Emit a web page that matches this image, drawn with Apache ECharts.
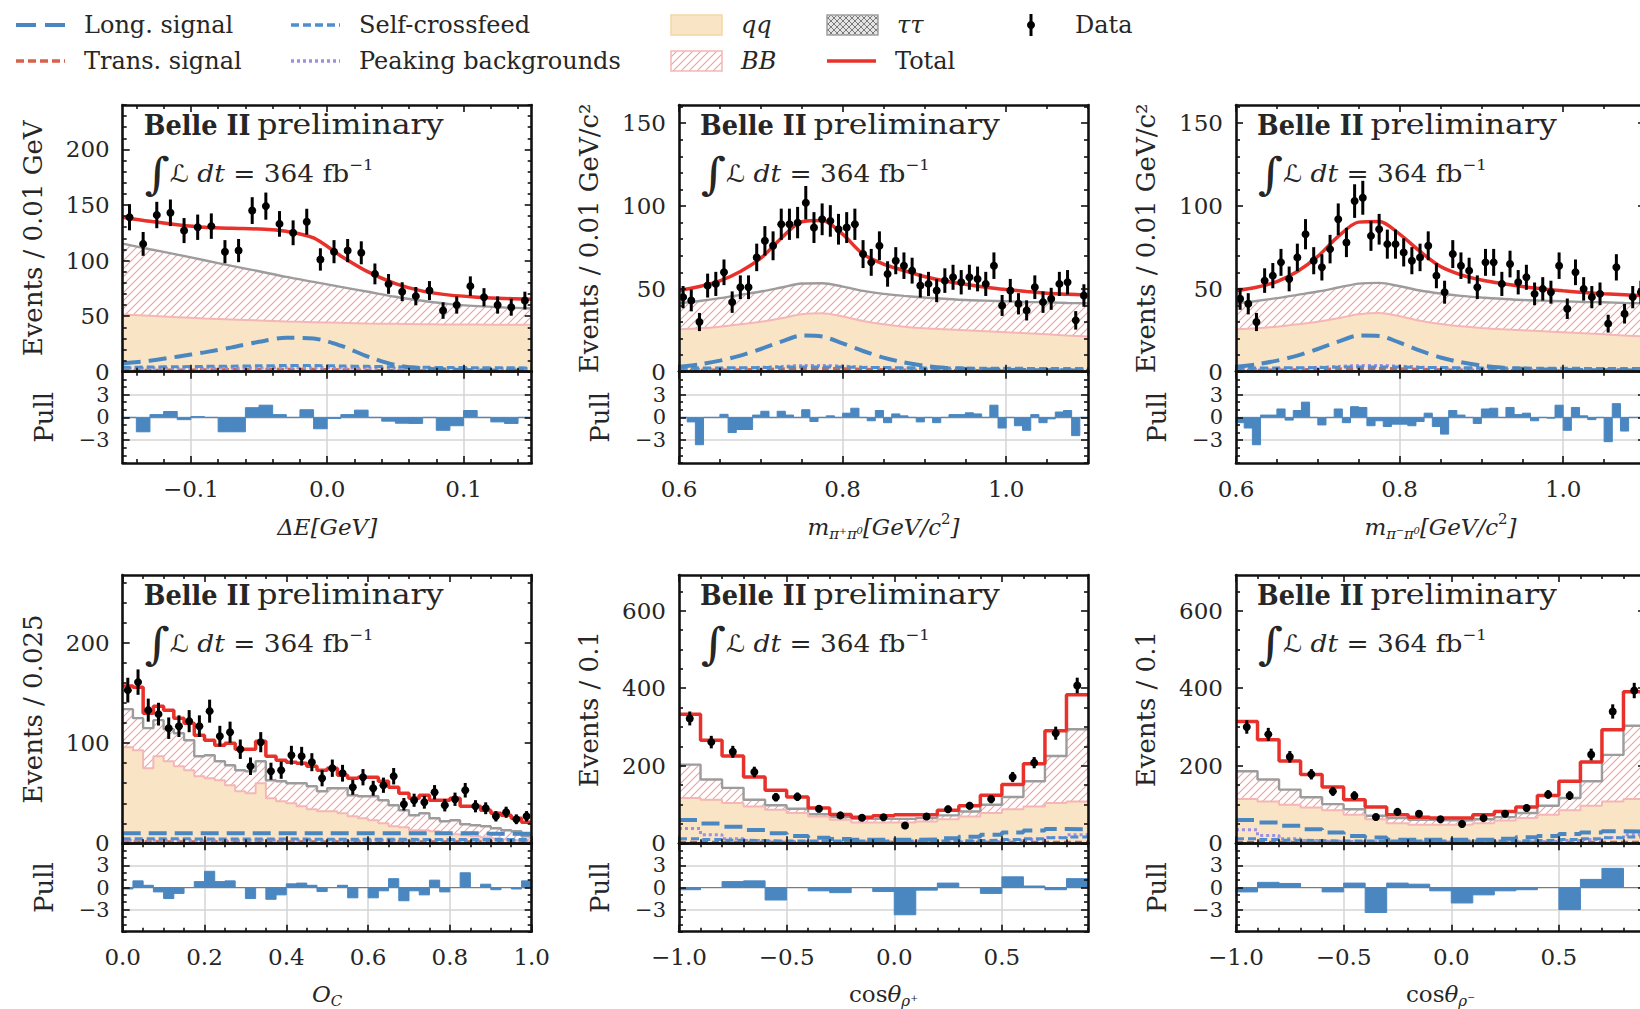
<!DOCTYPE html>
<html>
<head>
<meta charset="utf-8">
<script src="https://cdn.jsdelivr.net/npm/echarts@6.0.0/dist/echarts.min.js"></script>
<style>
html,body{margin:0;padding:0;background:#ffffff;}
#chart{width:1640px;height:1009px;}
</style>
</head>
<body>
<div id="chart"></div>
<script>
// ================= DATA =================
// histogram binning: [low, high, number of bins]
const deBins  = [-0.15, 0.15, 30];
const mBins   = [0.6, 1.1, 50];
const ocBins  = [0.0, 1.0, 40];
const cosBins = [-1.0, 0.9, 19];

// tick labels
const deTicks   = [-0.1, 0.0, 0.1];
const mTicks    = [0.6, 0.8, 1.0];
const ocTicks   = [0.0, 0.2, 0.4, 0.6, 0.8, 1.0];
const cosTicks  = [-1.0, -0.5, 0.0, 0.5];
const yTicksDE  = [0, 50, 100, 150, 200];
const yTicksM   = [0, 50, 100, 150];
const yTicksOC  = [0, 100, 200];
const yTicksCos = [0, 200, 400, 600];
const pullTicks = [-3, 0, 3];
const pullOuterLabels = [-3, 3];
const pullCenterLabels = [0];

// ---- Delta E ----
const deData = [139,115,141,143,127,130,131,108,109,145,149,133,125,135,101,108,109,107,88,79,72,68,73,55,60,77,67,60,58,64];
const dePull = [0,-1.9,0.36,0.77,-0.3,0.1,0,-1.9,-1.9,1.27,1.6,0.36,0,1.0,-1.5,-0.14,0.36,0.95,0,-0.5,-0.77,-0.8,0,-1.7,-1.1,0.9,0,-0.6,-0.8,0];
const deCurveX = [-0.15,-0.13,-0.11,-0.09,-0.07,-0.05,-0.03,-0.01,0.01,0.03,0.05,0.07,0.09,0.11,0.13,0.15];
const deTotal = [139,135.3,132.3,130,129,128.4,126.3,120.4,104.2,89.8,79.3,72.5,68.9,67.1,65.9,65.3];
const deTau   = [115.3,110.2,105.4,100.3,95.2,90.4,85.3,80.8,76.3,71.9,67.4,63.8,60.8,59,57.8,56.9];
const deQQ    = [51.5,50.3,49.1,47.9,47,46.1,45.2,44.6,44,43.4,43.1,42.8,42.5,42.5,42.2,42.2];
const deLong  = [7.5,9.9,13.5,17.4,21.9,26.9,30.5,29.9,23.4,13.5,6,3,1.8,1.2,0.9,0.9];
const deSelf  = [4,4.2,4.5,4.8,5,5.3,5.5,5.5,5.2,4.8,4.4,4,3.8,3.6,3.5,3.4];
const dePeak  = [3,3,3.1,3.2,3.3,3.4,3.5,3.5,3.4,3.2,3,2.9,2.8,2.7,2.6,2.6];
const deTrans = [1.2,1.3,1.5,1.7,1.9,2.1,2.2,2.1,1.8,1.4,1,0.8,0.6,0.5,0.5,0.4];

// ---- m(pi+ pi0) ----
const mpData = [45,43,30,52,53,60,42,51,51,69,79,76,89,89,90,102,87,92,91,86,87,89,71,66,76,59,67,64,61,52,53,49,55,57,54,57,56,53,64,40,49,41,37,51,42,44,53,54,31,46];
const mpPull = [0,-0.6,-3.6,0,0,0.4,-2.0,-1.6,-1.6,0.3,0.8,0,0.8,0.3,0,1.0,-0.55,0,0.2,0,0.55,1.2,0,-0.45,0.9,-0.7,0.45,0.2,0,-0.6,0,-0.7,0,0.36,0.36,0.6,0.45,0,1.6,-1.4,0,-1.1,-1.7,0.36,-0.7,-0.2,0.7,0.9,-2.4,0];
const mCurveX = [0.6,0.625,0.65,0.675,0.7,0.725,0.75,0.775,0.8,0.825,0.85,0.875,0.9,0.925,0.95,0.975,1.0,1.025,1.05,1.075,1.1];
const mpTotal = [49,51.4,54.8,60.5,68.5,80.6,90.5,91.3,83,71,65,61.1,57.5,54.8,52.8,51,49.6,48.4,47.4,46.8,46.2];
const mpTau   = [41.3,42.7,44.4,46.4,48.4,50.8,53.2,53.4,51.4,48.8,47,45.8,44.8,44,43.3,42.9,42.5,42.1,41.9,41.5,41.3];
const mpQQ    = [25.6,26.2,27.2,28.6,30.2,32.3,34.7,35.3,33.3,30.6,28.6,27.2,26.2,25.6,25,24.4,23.8,23.2,22.6,21.8,21.2];
const mpLong  = [3,4.4,6.7,9.7,13.7,18.1,21.8,21.2,17.1,12.5,8.5,5.6,3.6,2.4,1.8,1.4,1.2,1,0.8,0.8,0.6];
const mpSelf  = [2.2,2.2,2.3,2.4,2.5,2.7,2.9,2.9,2.8,2.6,2.5,2.4,2.3,2.2,2.2,2.1,2.1,2.0,2.0,2.0,2.0];
const mpPeak  = [1.2,1.4,1.7,2.1,2.6,3.2,3.7,3.8,3.4,2.8,2.3,1.9,1.6,1.4,1.3,1.2,1.1,1.1,1.0,1.0,1.0];
const mpTrans = [0.8,0.9,1.0,1.2,1.4,1.7,2.0,2.0,1.8,1.5,1.2,1.0,0.9,0.8,0.7,0.7,0.6,0.6,0.6,0.5,0.5];

// ---- m(pi- pi0) ----
const mmData = [44,41,30,55,58,66,56,69,83,67,63,74,92,78,103,105,82,86,77,77,72,67,69,76,58,48,71,64,61,51,66,66,53,65,54,57,47,50,48,64,38,60,50,45,47,29,63,35,45,48];
const mmPull = [-0.7,-1.4,-3.6,0.3,0.3,1.1,-0.36,0.9,2.0,0,-1.0,0,1.1,-0.7,1.4,1.3,-1.1,-0.45,-1.2,-0.9,-0.9,-1.1,-0.55,0.55,-1.2,-2.2,0.9,0.3,0,-0.8,1.1,1.2,0,1.3,0.36,0.55,-0.45,0,-0.1,1.6,-1.7,1.3,0.2,-0.3,0,-3.2,1.8,-1.8,0,0];
const mmTotal = [49,51,54.4,60.5,69.6,81.7,90.3,90.7,83.1,72.6,63.5,58.5,55.4,53.2,51.4,50,48.8,47.8,47,46.4,45.8];
const mmTau   = [41.3,42.7,44.4,46.4,48.4,50.8,53.2,53.6,51.6,49,47.2,45.8,44.8,44,43.3,42.9,42.5,42.1,41.9,41.5,41.3];
const mmQQ    = [25.6,26.2,27.2,28.6,30.2,32.3,34.7,35.5,33.5,30.8,28.8,27.4,26.4,25.6,25,24.4,23.8,23.2,22.6,21.8,21.2];
const mmLong  = [3,4.4,6.7,9.7,13.7,18.1,21.8,21.6,17.5,12.7,8.6,5.7,3.7,2.5,1.8,1.4,1.2,1,0.8,0.8,0.6];
const mmSelf  = [2.2,2.2,2.3,2.4,2.5,2.7,2.9,2.9,2.8,2.6,2.5,2.4,2.3,2.2,2.2,2.1,2.1,2.0,2.0,2.0,2.0];
const mmPeak  = [1.2,1.4,1.7,2.1,2.6,3.2,3.7,3.8,3.4,2.8,2.3,1.9,1.6,1.4,1.3,1.2,1.1,1.1,1.0,1.0,1.0];
const mmTrans = [0.8,0.9,1.0,1.2,1.4,1.7,2.0,2.0,1.8,1.5,1.2,1.0,0.9,0.8,0.7,0.7,0.6,0.6,0.6,0.5,0.5];

// ---- O_C ----
const ocData  = [153,161,133,129,115,117,122,117,132,107,111,94,77,101,72,73,88,87,81,65,75,70,56,66,55,58,67,39,43,41,51,38,44,53,37,35,27,31,24,27];
const ocPull  = [-0.2,0.9,0.3,-0.6,-1.5,-0.8,0,0.8,2.2,0.8,0.9,0,-1.5,0,-1.6,-1.0,0.5,0.6,0.3,-0.55,0,0.3,-1.4,0,-1.4,-0.45,1.2,-1.8,-0.45,-1.0,1.0,-0.6,0,2.0,0,0.45,-0.3,0,-0.2,0.9];
const ocTotal = [157,156,130,137,133,125,120,108,103,98,100,94,94,102,87,83,81,80,77,73,75,68,65,66,66,62,56,50,45,48,43,43,45,37,37,33,30,28,25,21];
const ocTau   = [134,125,115,123,114,110,103,87,88,82,78,73,72,82,63,62,60,60,57,52,55,55,48,47,47,43,38,33,28,30,25,22,23,19,18,17,15,13,12,7];
const ocQQ    = [96,93,75,87,82,77,73,67,65,63,58,52,50,60,45,42,40,37,34,32,32,30,27,25,23,20,17,16,13,13,12,10,9,8,7,6,5,4,3,2];
const ocLong  = [10,10,10,10,10,10,10,10,10,10,10,10,10,10,10,10,10,10,10,10,10,10,10,10,10,10,10,10,10,10,10,10,10,10,10,9.5,9.5,9.5,9.5,9.5];
const ocSelf  = [4.5,4.5,4.5,4.5,4.5,4.5,4.4,4.4,4.4,4.4,4.3,4.3,4.3,4.3,4.2,4.2,4.2,4.2,4.1,4.1,4.1,4.1,4,4,4,4,4,4,3.9,3.9,3.9,3.9,3.8,3.8,3.8,3.8,3.7,3.7,3.7,3.7];
const ocPeak  = [3,3,3,3,3,3,3,3,3,3,3,3,3,3,3,3,3,3,3,3,3,3,3,3,3,3,3,3,3,3,3,3,3,3,3,3,3,3,3,3];
const ocTrans = [1.5,1.5,1.5,1.5,1.5,1.5,1.5,1.5,1.5,1.5,1.5,1.5,1.5,1.5,1.5,1.5,1.5,1.5,1.5,1.5,1.5,1.5,1.5,1.5,1.5,1.5,1.5,1.5,1.5,1.5,1.5,1.5,1.5,1.5,1.5,1.5,1.5,1.5,1.5,1.5];

// ---- cos theta rho+ ----
const cpData  = [322,261,236,184,119,120,89,72,66,67,46,69,88,97,114,171,208,284,407];
const cpPull  = [-0.3,0,0.8,0.9,-1.7,0,-0.45,-0.7,0,-0.55,-3.7,-0.36,0.6,0,-0.8,1.45,0.2,-0.3,1.2];
const cpTotal = [333,266,225,171,137,119.5,91,74,67.5,71,73.6,73.6,85,97,124,151.5,205,290,383];
const cpTau   = [203,164.5,143,112.5,98,89,75,67.5,63,63,63,65,72,82,99.6,119.5,160,225,294];
const cpQQ    = [117,112.5,104,95,86.6,78,69,60.6,53.7,53.7,53.7,56,62,69,78,88,95,104,108];
const cpLong  = [60,51,43,34,26,19,14,11,9,9,9,10,13,17,22,28,33,37,36];
const cpSelf  = [12,10,8,7,6,6,6,6,6,6,6,6,6,7,8,10,12,14,16];
const cpPeak  = [38,22,12,7,5,4,3.5,3,3,3,3,3,3.5,4,5,7,10,15,22];
const cpTrans = [3,3,3,3,3,3,3,3,3,3,3,3,3,3,3,3,3,3,3];

// ---- cos theta rho- ----
const cmData  = [300,281,223,178,134,123,68,81,76,62,50,65,76,91,126,123,229,340,394];
const cmPull  = [-0.6,0.7,0.55,0,-0.6,0.6,-3.4,0.6,0.45,-0.45,-2.1,-1.0,-0.45,-0.3,0,-3.0,1.1,2.6,0];
const cmTotal = [314,267,212,177.5,145.5,112.5,93.5,73.6,67.5,65,65,73.6,82,93.5,123,160,209.5,292.6,391];
const cmTau   = [186,164.5,138.5,118.6,101,88,71,65,60.6,59,59,62,67.5,78,97,117,160,228,303];
const cmQQ    = [114,108,99.6,92.6,85,73.6,62,52,47.6,47.6,47.6,52,59,65,73.6,85,97,108,114];
const cmLong  = [60,53.7,45,36,28,19,15,9,9,9,9,9,12,15.6,19,24,28,31,30];
const cmSelf  = [12,10,8,7,6,6,6,6,6,6,6,6,6,7,8,10,12,14,16];
const cmPeak  = [35,20,12,7,5,4,3.5,3,3,3,3,3,3.5,4,5,7,10,15,22];
const cmTrans = [3,3,3,3,3,3,3,3,3,3,3,3,3,3,3,3,3,3,3];

// ================= STYLE =================
const FONT = "'DejaVu Serif', 'DejaVu Sans', serif";
const TXT = '#262626';
const COL = {qq:'#f9e5c5', qqEdge:'#f3d6a4', bbEdge:'#f4b6b6', hatch:'#f29e9e', tau:'#9c9c9c',
  total:'#e8312a', long:'#4a87c0', trans:'#d9604b', self:'#4f8ecf', peak:'#9d8fe2',
  pull:'#4a87c0', grid:'#d4d4d4', frame:'#111111'};
const COLS_LEFT = [122.7, 679, 1236];
const PW = 409;
const ROWS = [{mainTop:105, mainH:266.7, pullH:91.3, nameGap:51}, {mainTop:575, mainH:268.3, pullH:88.4, nameGap:49}];

function makeHatch(){
  const c = document.createElement('canvas'); c.width = 8; c.height = 8;
  const g = c.getContext('2d');
  g.fillStyle = '#ffffff'; g.fillRect(0,0,8,8);
  g.strokeStyle = COL.hatch; g.lineWidth = 1.1;
  g.beginPath();
  g.moveTo(-1,9); g.lineTo(9,-1);
  g.moveTo(-1,1); g.lineTo(1,-1);
  g.moveTo(7,9); g.lineTo(9,7);
  g.stroke();
  return c;
}
function makeCross(){
  const c = document.createElement('canvas'); c.width = 6; c.height = 6;
  const g = c.getContext('2d');
  g.fillStyle = '#e4e4e4'; g.fillRect(0,0,6,6);
  g.strokeStyle = '#7a7a7a'; g.lineWidth = 1;
  g.beginPath();
  g.moveTo(0,6); g.lineTo(6,0); g.moveTo(0,0); g.lineTo(6,6);
  g.stroke();
  return c;
}
const HATCH = makeHatch();
const CROSS = makeCross();

const RICH = {
  i:{fontFamily:FONT, fontStyle:'italic', fontSize:23, color:TXT, lineHeight:26},
  r:{fontFamily:FONT, fontSize:23, color:TXT, lineHeight:26},
  s:{fontFamily:FONT, fontStyle:'italic', fontSize:15, color:TXT, lineHeight:26, padding:[14,0,0,0]},
  p:{fontFamily:FONT, fontSize:15, color:TXT, lineHeight:26, padding:[0,0,16,0]}
};
const nameDE  = '{i|ΔE[GeV]}';
const nameMP  = '{i|m}{s|π⁺π⁰}{i|[GeV/c}{p|2}{i|]}';
const nameMM  = '{i|m}{s|π⁻π⁰}{i|[GeV/c}{p|2}{i|]}';
const nameOC  = '{i|O}{s|C}';
const nameCP  = '{r|cos}{i|θ}{s|ρ⁺}';
const nameCM  = '{r|cos}{i|θ}{s|ρ⁻}';

const fmt1 = v => (v < 0 ? '\u2212' : '') + Math.abs(v).toFixed(1);
const fmtInt = v => String(Math.round(v));
const fmtPull = v => (v < 0 ? '\u2212' + Math.abs(v) : String(v));

const panels = [
  {row:0, col:0, bins:deBins, ymax:240, yTicks:yTicksDE, yMinor:10, xTicks:deTicks, xMinor:0.02,
   data:deData, pull:dePull, cx:deCurveX, total:deTotal, tau:deTau, qq:deQQ, lng:deLong, slf:deSelf, pk:dePeak, trn:deTrans,
   yName:'Events / 0.01 GeV', xName:nameDE},
  {row:0, col:1, bins:mBins, ymax:161, yTicks:yTicksM, yMinor:10, xTicks:mTicks, xMinor:0.05,
   data:mpData, pull:mpPull, cx:mCurveX, total:mpTotal, tau:mpTau, qq:mpQQ, lng:mpLong, slf:mpSelf, pk:mpPeak, trn:mpTrans,
   yName:'Events / 0.01 GeV/c²', xName:nameMP},
  {row:0, col:2, bins:mBins, ymax:161, yTicks:yTicksM, yMinor:10, xTicks:mTicks, xMinor:0.05,
   data:mmData, pull:mmPull, cx:mCurveX, total:mmTotal, tau:mmTau, qq:mmQQ, lng:mmLong, slf:mmSelf, pk:mmPeak, trn:mmTrans,
   yName:'Events / 0.01 GeV/c²', xName:nameMM},
  {row:1, col:0, bins:ocBins, ymax:268, yTicks:yTicksOC, yMinor:20, xTicks:ocTicks, xMinor:0.05,
   data:ocData, pull:ocPull, cx:null, total:ocTotal, tau:ocTau, qq:ocQQ, lng:ocLong, slf:ocSelf, pk:ocPeak, trn:ocTrans,
   yName:'Events / 0.025', xName:nameOC},
  {row:1, col:1, bins:cosBins, ymax:692, yTicks:yTicksCos, yMinor:50, xTicks:cosTicks, xMinor:0.1,
   data:cpData, pull:cpPull, cx:null, total:cpTotal, tau:cpTau, qq:cpQQ, lng:cpLong, slf:cpSelf, pk:cpPeak, trn:cpTrans,
   yName:'Events / 0.1', xName:nameCP},
  {row:1, col:2, bins:cosBins, ymax:692, yTicks:yTicksCos, yMinor:50, xTicks:cosTicks, xMinor:0.1,
   data:cmData, pull:cmPull, cx:null, total:cmTotal, tau:cmTau, qq:cmQQ, lng:cmLong, slf:cmSelf, pk:cmPeak, trn:cmTrans,
   yName:'Events / 0.1', xName:nameCM}
];

// ================= HELPERS =================
function edges(b){ const [lo,hi,n] = b, w = (hi-lo)/n; return Array.from({length:n+1}, (_,i) => +(lo + i*w).toFixed(6)); }
function centers(b){ const e = edges(b); return e.slice(0,-1).map((x,i) => (x + e[i+1]) / 2); }
function minors(lo, hi, step, majors){
  const out = [];
  const k0 = Math.ceil(lo/step - 1e-6), k1 = Math.floor(hi/step + 1e-6);
  for (let k = k0; k <= k1; k++){
    const v = +(k*step).toFixed(6);
    if (!majors.some(m => Math.abs(m - v) < 1e-6)) out.push(v);
  }
  return out;
}

const option = {animation:false, backgroundColor:'#ffffff', textStyle:{fontFamily:FONT},
  grid:[], xAxis:[], yAxis:[], series:[], graphic:[]};
function addGrid(left, top, w, h){ option.grid.push({left:left, top:top, width:w, height:h, containLabel:false, outerBoundsMode:'none'}); return option.grid.length - 1; }
function addX(c){ option.xAxis.push(c); return option.xAxis.length - 1; }
function addY(c){ option.yAxis.push(c); return option.yAxis.length - 1; }
function axis(gi, pos, min, max, o){
  const fs = o.labelFS || 23;
  return {
    type:'value', gridIndex:gi, position:pos, min:min, max:max, z:(o.z === undefined ? 8 : o.z), silent:true,
    axisLine:{show:!!o.line, onZero:false, lineStyle:{color:COL.frame, width:2.6}},
    axisTick:{show:!!o.ticks, inside:true, length:o.len || 4, customValues:o.ticks || [], lineStyle:{color:o.tickColor || COL.frame, width:o.tickW || 1.6}},
    axisLabel:o.labels ? {show:true, customValues:o.labels, formatter:o.fmt, fontFamily:FONT, fontSize:fs, color:TXT,
      margin:(o.margin || 13), hideOverlap:false, showMinLabel:true, showMaxLabel:true, lineHeight:fs} : {show:false},
    splitLine:{show:false}, minorTick:{show:false}, axisPointer:{show:false},
    name:o.name || '', nameLocation:'middle', nameGap:o.nameGap || 0, nameTextStyle:o.nameStyle || {}
  };
}
const yNameStyle = {fontFamily:FONT, fontSize:26, color:TXT};

function renderPt(params, api){
  const x = api.value(0), y = api.value(1), e = api.value(2);
  const c = api.coord([x, y]), t = api.coord([x, y + e]), b = api.coord([x, y - e]);
  return {type:'group', children:[
    {type:'line', shape:{x1:c[0], y1:t[1], x2:c[0], y2:b[1]}, style:{stroke:'#000', lineWidth:3}},
    {type:'circle', shape:{cx:c[0], cy:c[1], r:4}, style:{fill:'#000'}}
  ]};
}
function renderBar(params, api){
  const x0 = api.value(0), x1 = api.value(1), v = api.value(2);
  const p0 = api.coord([x0, 0]), p1 = api.coord([x1, v]);
  return {type:'rect', shape:{x:p0[0], y:Math.min(p0[1], p1[1]), width:p1[0] - p0[0], height:Math.abs(p1[1] - p0[1])},
    style:{fill:COL.pull, stroke:COL.pull, lineWidth:1}};
}

// ================= BUILD PANELS =================
panels.forEach(p => {
  const gl = COLS_LEFT[p.col], R = ROWS[p.row];
  const mt = R.mainTop, mh = R.mainH, pt = mt + mh, ph = R.pullH;
  const xlo = p.bins[0], xhi = p.bins[1];
  const xMin = minors(xlo, xhi, p.xMinor, p.xTicks);
  const yMin = minors(0, p.ymax, p.yMinor, p.yTicks);
  const pMin = minors(-6, 6, 1, pullTicks);

  // main frame + major ticks
  const gA = addGrid(gl, mt, PW, mh);
  const xa = addX(axis(gA, 'bottom', xlo, xhi, {line:true, len:7, ticks:p.xTicks}));
  addX(axis(gA, 'top', xlo, xhi, {line:true, len:7, ticks:p.xTicks}));
  const ya = addY(axis(gA, 'left', 0, p.ymax, {line:true, len:7, ticks:p.yTicks, labels:p.yTicks, fmt:fmtInt,
    name:p.yName, nameGap:77, nameStyle:yNameStyle}));
  addY(axis(gA, 'right', 0, p.ymax, {line:true, len:7, ticks:p.yTicks}));
  // main minor ticks
  const gB = addGrid(gl, mt, PW, mh);
  addX(axis(gB, 'bottom', xlo, xhi, {len:4, ticks:xMin}));
  addX(axis(gB, 'top', xlo, xhi, {len:4, ticks:xMin}));
  addY(axis(gB, 'left', 0, p.ymax, {len:4, ticks:yMin}));
  addY(axis(gB, 'right', 0, p.ymax, {len:4, ticks:yMin}));

  // pull grid lines
  const gE = addGrid(gl, pt, PW, ph);
  addX(axis(gE, 'bottom', xlo, xhi, {len:ph, ticks:p.xTicks, tickColor:COL.grid, tickW:1.5, z:0}));
  addY(axis(gE, 'left', -6, 6, {len:PW, ticks:pullTicks, tickColor:COL.grid, tickW:1.5, z:0}));
  // pull frame + major ticks (+ labels for -3 and 3)
  const gC = addGrid(gl, pt, PW, ph);
  const xp = addX(axis(gC, 'bottom', xlo, xhi, {line:true, len:7, ticks:p.xTicks, labels:p.xTicks, fmt:fmt1, margin:14,
    name:p.xName, nameGap:R.nameGap, nameStyle:{rich:RICH, color:TXT}}));
  addX(axis(gC, 'top', xlo, xhi, {line:true, len:7, ticks:p.xTicks}));
  const yp = addY(axis(gC, 'left', -6, 6, {line:true, len:7, ticks:pullTicks, labels:pullOuterLabels, fmt:fmtPull, labelFS:21,
    name:'Pull', nameGap:66, nameStyle:yNameStyle}));
  addY(axis(gC, 'right', -6, 6, {line:true, len:7, ticks:pullTicks}));
  // pull minor ticks (+ label for 0)
  const gD = addGrid(gl, pt, PW, ph);
  addX(axis(gD, 'bottom', xlo, xhi, {len:4, ticks:xMin}));
  addX(axis(gD, 'top', xlo, xhi, {len:4, ticks:xMin}));
  addY(axis(gD, 'left', -6, 6, {len:4, ticks:pMin, labels:pullCenterLabels, fmt:fmtPull, labelFS:21}));
  addY(axis(gD, 'right', -6, 6, {len:4, ticks:pMin}));

  // ---- series ----
  const smooth = !!p.cx;
  const xs = smooth ? p.cx : edges(p.bins);
  const mk = arr => xs.map((x, i) => [x, arr[Math.min(i, arr.length - 1)]]);
  const shape = smooth ? {smooth:0.3} : {step:'end'};
  const base = Object.assign({type:'line', xAxisIndex:xa, yAxisIndex:ya, symbol:'none', silent:true, animation:false}, shape);
  option.series.push(Object.assign({}, base, {name:'ττ + BB', data:mk(p.tau), z:2,
    lineStyle:{color:COL.tau, width:2.4}, areaStyle:{color:{image:HATCH, repeat:'repeat'}, opacity:1}}));
  option.series.push(Object.assign({}, base, {name:'qq', data:mk(p.qq), z:2,
    lineStyle:{color:COL.bbEdge, width:2}, areaStyle:{color:COL.qq, opacity:1}}));
  option.series.push(Object.assign({}, base, {name:'Trans. signal', data:mk(p.trn), z:3,
    lineStyle:{color:COL.trans, width:3, type:[7,4]}}));
  option.series.push(Object.assign({}, base, {name:'Peaking backgrounds', data:mk(p.pk), z:3,
    lineStyle:{color:COL.peak, width:3, type:[3,3]}}));
  option.series.push(Object.assign({}, base, {name:'Self-crossfeed', data:mk(p.slf), z:3,
    lineStyle:{color:COL.self, width:3, type:[8,4]}}));
  option.series.push(Object.assign({}, base, {name:'Long. signal', data:mk(p.lng), z:3,
    lineStyle:{color:COL.long, width:4, type:[18,8]}}));
  option.series.push(Object.assign({}, base, {name:'Total', data:mk(p.total), z:4,
    lineStyle:{color:COL.total, width:3.5}}));
  const cs = centers(p.bins);
  option.series.push({type:'custom', name:'Data', xAxisIndex:xa, yAxisIndex:ya, silent:true, z:5,
    renderItem:renderPt, data:cs.map((x, i) => [x, p.data[i], Math.sqrt(p.data[i])])});
  const ed = edges(p.bins);
  option.series.push({type:'custom', name:'Pull', xAxisIndex:xp, yAxisIndex:yp, silent:true, z:3,
    renderItem:renderBar, data:p.pull.map((v, i) => [ed[i], ed[i+1], v])});

  // ---- annotations ----
  option.graphic.push({type:'text', x:gl + 21, y:mt + 20, z:20, silent:true, scaleX:0.95,
    style:{text:'Belle II', fontFamily:FONT, fontWeight:'bold', fontSize:27, fill:TXT,
      verticalAlign:'middle', textVerticalAlign:'middle'}});
  option.graphic.push({type:'text', x:gl + 134.5, y:mt + 20, z:20, silent:true, scaleX:1.17,
    style:{text:'preliminary', fontFamily:FONT, fontSize:27, fill:TXT,
      verticalAlign:'middle', textVerticalAlign:'middle'}});
  option.graphic.push({type:'text', x:gl + 22, y:mt + 69, z:20, silent:true, scaleX:1.1,
    style:{text:'{int|∫}{L|ℒ} {it|dt} {n|= 364 fb}{p|−1}', verticalAlign:'middle', textVerticalAlign:'middle',
      fontFamily:FONT, fontSize:24, fill:TXT,
      rich:{int:{fontFamily:FONT, fontSize:44, fill:TXT, color:TXT, lineHeight:50},
            L:{fontFamily:FONT, fontSize:24, fill:TXT, color:TXT},
            it:{fontFamily:FONT, fontStyle:'italic', fontSize:24, fill:TXT, color:TXT},
            n:{fontFamily:FONT, fontSize:24, fill:TXT, color:TXT},
            p:{fontFamily:FONT, fontSize:15, fill:TXT, color:TXT, padding:[0,0,18,0]}}}});
});

// ================= LEGEND =================
const legendItems = [
  {label:'Long. signal', x:16, y:25, kind:'line', color:COL.long, w:4, dash:[20,9]},
  {label:'Trans. signal', x:16, y:61, kind:'line', color:COL.trans, w:3.5, dash:[8,4]},
  {label:'Self-crossfeed', x:291, y:25, kind:'line', color:COL.self, w:3.5, dash:[8,4]},
  {label:'Peaking backgrounds', x:291, y:61, kind:'line', color:COL.peak, w:3.5, dash:[3,3]},
  {label:'qq', x:671, y:25, kind:'rect', fill:COL.qq, stroke:COL.qqEdge, italic:true},
  {label:'BB', x:671, y:61, kind:'rect', fill:{image:HATCH, repeat:'repeat'}, stroke:COL.bbEdge, italic:true},
  {label:'ττ', x:827, y:25, kind:'rect', fill:{image:CROSS, repeat:'repeat'}, stroke:'#a0a0a0', italic:true},
  {label:'Total', x:827, y:61, kind:'line', color:COL.total, w:3.5},
  {label:'Data', x:1031, y:25, kind:'data'}
];
legendItems.forEach(it => {
  let tx;
  if (it.kind === 'line'){
    option.graphic.push({type:'line', silent:true, z:20, shape:{x1:it.x, y1:it.y, x2:it.x + 49, y2:it.y},
      style:{stroke:it.color, lineWidth:it.w, lineDash:it.dash || null}});
    tx = it.x + 68;
  } else if (it.kind === 'rect'){
    option.graphic.push({type:'rect', silent:true, z:20, shape:{x:it.x, y:it.y - 10, width:51, height:20},
      style:{fill:it.fill, stroke:it.stroke, lineWidth:1.5}});
    tx = it.x + 70;
  } else {
    option.graphic.push({type:'line', silent:true, z:20, shape:{x1:it.x, y1:it.y - 11, x2:it.x, y2:it.y + 11},
      style:{stroke:'#000', lineWidth:3}});
    option.graphic.push({type:'circle', silent:true, z:20, shape:{cx:it.x, cy:it.y, r:4}, style:{fill:'#000'}});
    tx = it.x + 44;
  }
  option.graphic.push({type:'text', silent:true, z:20, x:tx, y:it.y,
    style:{text:it.label, fontFamily:FONT, fontSize:24, fontStyle:it.italic ? 'italic' : 'normal', fill:TXT,
      verticalAlign:'middle', textVerticalAlign:'middle'}});
});

const chart = echarts.init(document.getElementById('chart'), null, {renderer:'svg', width:1640, height:1009});
chart.setOption(option);
</script>
</body>
</html>
